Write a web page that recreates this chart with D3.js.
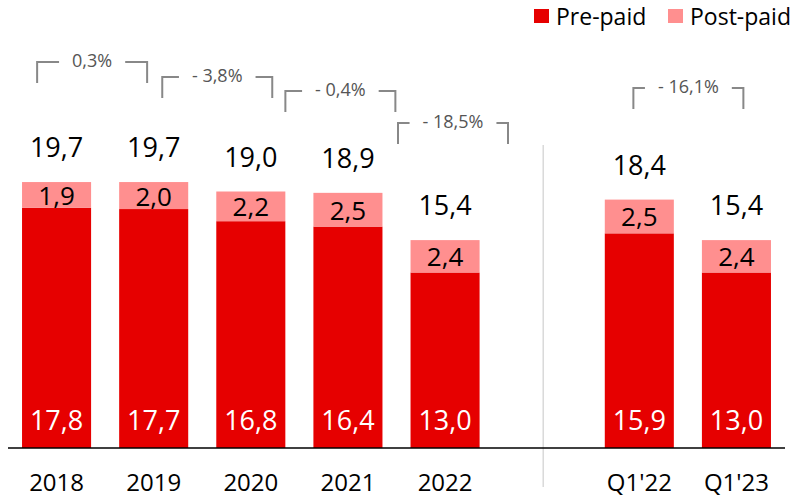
<!DOCTYPE html>
<html>
<head>
<meta charset="utf-8">
<script src="https://cdn.jsdelivr.net/npm/d3@7"></script>
<style>
  html, body { margin: 0; padding: 0; background: #fff; }
  svg { display: block; font-family: "Open Sans", "Noto Sans", sans-serif; }
</style>
</head>
<body>
<svg id="chart" width="798" height="498"></svg>
<script>
// ---- data ----
const categories = ["2018", "2019", "2020", "2021", "2022", "Q1'22", "Q1'23"];
const prePaid    = [17.8, 17.7, 16.8, 16.4, 13.0, 15.9, 13.0];
const postPaid   = [1.9, 2.0, 2.2, 2.5, 2.4, 2.5, 2.4];
const totals     = [19.7, 19.7, 19.0, 18.9, 15.4, 18.4, 15.4];
const seriesNames = ["Pre-paid", "Post-paid"];
const changeFrom   = ["2018", "2019", "2020", "2021", "Q1'22"];
const changeTo     = ["2019", "2020", "2021", "2022", "Q1'23"];
const changeLabels = ["0,3%", "- 3,8%", "- 0,4%", "- 18,5%", "- 16,1%"];

// ---- layout / style ----
const colors = { pre: "#e60000", post: "#ff8f8f" };
const svg = d3.select("#chart");
const baseY = 448;
const slots = ["2018", "2019", "2020", "2021", "2022", "__gap__", "Q1'22", "Q1'23"];
const x = d3.scaleBand().domain(slots).range([8, 785]).paddingInner(0.289).paddingOuter(0.1445);
const y = d3.scaleLinear().domain([0, 448 / 13.5]).range([baseY, 0]);
const fmt = v => d3.format(".1f")(v).replace(".", ",");

const rows = categories.map((c, i) => ({ cat: c, pre: prePaid[i], post: postPaid[i], total: totals[i] }));
const stack = d3.stack().keys(["pre", "post"])(rows);

// divider
const gapX = x("__gap__") + x.bandwidth() / 2 + 1;
svg.append("line").attr("x1", gapX).attr("x2", gapX).attr("y1", 145).attr("y2", 487)
  .attr("stroke", "#d0d0d0").attr("stroke-width", 1.2);

// bars
stack.forEach(layer => {
  svg.append("g").selectAll("rect").data(layer).join("rect")
    .attr("x", d => x(d.data.cat))
    .attr("width", x.bandwidth())
    .attr("y", d => y(d[1]))
    .attr("height", d => y(d[0]) - y(d[1]))
    .attr("fill", colors[layer.key]);
});

// axis line
svg.append("line").attr("x1", 8).attr("x2", 785).attr("y1", baseY).attr("y2", baseY)
  .attr("stroke", "#000").attr("stroke-width", 1.5);

// x axis labels via d3 axis
const xAxis = d3.axisBottom(x).tickSize(0).tickPadding(0).tickFormat(d => d === "__gap__" ? "" : d);
const gx = svg.append("g").attr("transform", `translate(0,${baseY})`).call(xAxis);
gx.select(".domain").remove();
gx.selectAll("text").attr("font-size", 24).attr("fill", "#000")
  .attr("font-family", "\"Open Sans\", sans-serif")
  .attr("dy", null).attr("y", 491 - baseY);

const cx = c => x(c) + x.bandwidth() / 2;

// pre-paid labels (white near bottom)
svg.append("g").selectAll("text").data(rows).join("text")
  .attr("x", d => cx(d.cat)).attr("y", baseY - 18)
  .attr("text-anchor", "middle").attr("font-size", 27).attr("fill", "#fff")
  .text(d => fmt(d.pre));

// post-paid labels (centered in segment)
svg.append("g").selectAll("text").data(rows).join("text")
  .attr("x", d => cx(d.cat)).attr("y", d => (y(d.pre) + y(d.pre + d.post)) / 2 + 10)
  .attr("text-anchor", "middle").attr("font-size", 26).attr("fill", "#000")
  .text(d => fmt(d.post));

// totals
svg.append("g").selectAll("text").data(rows).join("text")
  .attr("x", d => cx(d.cat)).attr("y", d => y(d.total) - 25)
  .attr("text-anchor", "middle").attr("font-size", 27).attr("fill", "#000")
  .text(d => fmt(d.total));

// change brackets
const bracketShift = [-13, 15, 41, 56.5, 0.5];
const bracketTop = [62, 77, 91, 123, 88];
const halfW = 55, legLen = 21, gap = 13;
changeLabels.forEach((lab, i) => {
  const mid = (cx(changeFrom[i]) + cx(changeTo[i])) / 2 + bracketShift[i];
  const top = bracketTop[i];
  const g = svg.append("g");
  const t = g.append("text").attr("x", mid).attr("y", top + 5).attr("text-anchor", "middle")
    .attr("font-size", 18).attr("fill", "#555").text(lab);
  const tw = t.node().getComputedTextLength();
  const l = mid - halfW, r = mid + halfW;
  g.append("path")
    .attr("d", `M${l},${top + legLen}V${top}H${mid - tw / 2 - gap}`)
    .attr("fill", "none").attr("stroke", "#888").attr("stroke-width", 2);
  g.append("path")
    .attr("d", `M${mid + tw / 2 + gap},${top}H${r}V${top + legLen}`)
    .attr("fill", "none").attr("stroke", "#888").attr("stroke-width", 2);
});

// legend
const legendX = [534, 668];
seriesNames.forEach((name, i) => {
  const g = svg.append("g").attr("transform", `translate(${legendX[i]},0)`);
  g.append("rect").attr("x", 0).attr("y", 9).attr("width", 15).attr("height", 14)
    .attr("fill", i === 0 ? colors.pre : colors.post);
  g.append("text").attr("x", 22).attr("y", 25).attr("font-size", 23).attr("fill", "#000").text(name);
});
</script>
</body>
</html>
